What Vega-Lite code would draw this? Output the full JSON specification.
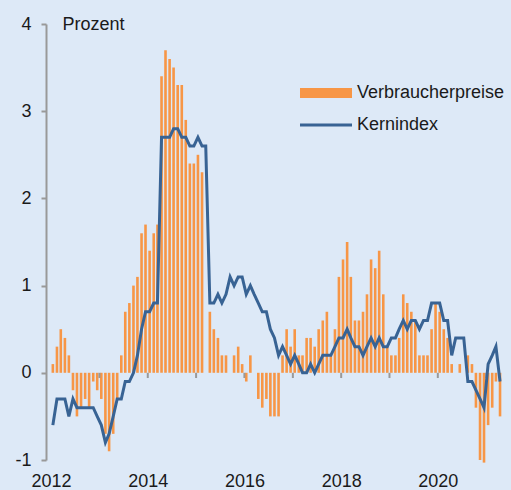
{
  "$schema": "https://vega.github.io/schema/vega-lite/v6.json",
  "width": 463,
  "height": 436,
  "autosize": "none",
  "padding": {"left": 46, "top": 24, "right": 2, "bottom": 30},
  "background": "#dde9f7",
  "config": {
    "view": {"stroke": null},
    "font": "Liberation Sans",
    "axis": {"labelFont": "Liberation Sans", "labelFontSize": 18, "labelColor": "#1a1a1a", "titleFont": "Liberation Sans"},
    "legend": {"labelFont": "Liberation Sans", "labelFontSize": 18, "labelColor": "#1a1a1a"}
  },
  "datasets": {
    "jp": [
      {"date": "2012-01-15", "cpi": 0.1, "core": -0.6},
      {"date": "2012-02-15", "cpi": 0.3, "core": -0.3},
      {"date": "2012-03-15", "cpi": 0.5, "core": -0.3},
      {"date": "2012-04-15", "cpi": 0.4, "core": -0.3},
      {"date": "2012-05-15", "cpi": 0.2, "core": -0.5},
      {"date": "2012-06-15", "cpi": -0.2, "core": -0.3},
      {"date": "2012-07-15", "cpi": -0.5, "core": -0.4},
      {"date": "2012-08-15", "cpi": -0.4, "core": -0.4},
      {"date": "2012-09-15", "cpi": -0.3, "core": -0.4},
      {"date": "2012-10-15", "cpi": -0.4, "core": -0.4},
      {"date": "2012-11-15", "cpi": -0.1, "core": -0.4},
      {"date": "2012-12-15", "cpi": -0.2, "core": -0.5},
      {"date": "2013-01-15", "cpi": -0.3, "core": -0.6},
      {"date": "2013-02-15", "cpi": -0.7, "core": -0.8},
      {"date": "2013-03-15", "cpi": -0.9, "core": -0.7},
      {"date": "2013-04-15", "cpi": -0.7, "core": -0.5},
      {"date": "2013-05-15", "cpi": -0.3, "core": -0.3},
      {"date": "2013-06-15", "cpi": 0.2, "core": -0.3},
      {"date": "2013-07-15", "cpi": 0.7, "core": -0.1},
      {"date": "2013-08-15", "cpi": 0.8, "core": -0.1},
      {"date": "2013-09-15", "cpi": 1.0, "core": 0.0},
      {"date": "2013-10-15", "cpi": 1.1, "core": 0.2},
      {"date": "2013-11-15", "cpi": 1.6, "core": 0.5},
      {"date": "2013-12-15", "cpi": 1.7, "core": 0.7},
      {"date": "2014-01-15", "cpi": 1.4, "core": 0.7},
      {"date": "2014-02-15", "cpi": 1.6, "core": 0.8},
      {"date": "2014-03-15", "cpi": 1.7, "core": 0.8},
      {"date": "2014-04-15", "cpi": 3.4, "core": 2.7},
      {"date": "2014-05-15", "cpi": 3.7, "core": 2.7},
      {"date": "2014-06-15", "cpi": 3.6, "core": 2.7},
      {"date": "2014-07-15", "cpi": 3.5, "core": 2.8},
      {"date": "2014-08-15", "cpi": 3.3, "core": 2.8},
      {"date": "2014-09-15", "cpi": 3.3, "core": 2.7},
      {"date": "2014-10-15", "cpi": 2.9, "core": 2.7},
      {"date": "2014-11-15", "cpi": 2.4, "core": 2.6},
      {"date": "2014-12-15", "cpi": 2.4, "core": 2.6},
      {"date": "2015-01-15", "cpi": 2.5, "core": 2.7},
      {"date": "2015-02-15", "cpi": 2.3, "core": 2.6},
      {"date": "2015-03-15", "cpi": null, "core": 2.6},
      {"date": "2015-04-15", "cpi": 0.7, "core": 0.8},
      {"date": "2015-05-15", "cpi": 0.5, "core": 0.8},
      {"date": "2015-06-15", "cpi": 0.4, "core": 0.9},
      {"date": "2015-07-15", "cpi": 0.2, "core": 0.8},
      {"date": "2015-08-15", "cpi": 0.2, "core": 0.9},
      {"date": "2015-09-15", "cpi": 0.0, "core": 1.1},
      {"date": "2015-10-15", "cpi": 0.2, "core": 1.0},
      {"date": "2015-11-15", "cpi": 0.3, "core": 1.1},
      {"date": "2015-12-15", "cpi": 0.1, "core": 1.1},
      {"date": "2016-01-15", "cpi": -0.1, "core": 0.9},
      {"date": "2016-02-15", "cpi": 0.2, "core": 1.0},
      {"date": "2016-03-15", "cpi": 0.0, "core": 0.9},
      {"date": "2016-04-15", "cpi": -0.3, "core": 0.8},
      {"date": "2016-05-15", "cpi": -0.4, "core": 0.7},
      {"date": "2016-06-15", "cpi": -0.3, "core": 0.7},
      {"date": "2016-07-15", "cpi": -0.5, "core": 0.5},
      {"date": "2016-08-15", "cpi": -0.5, "core": 0.4},
      {"date": "2016-09-15", "cpi": -0.5, "core": 0.2},
      {"date": "2016-10-15", "cpi": 0.2, "core": 0.3},
      {"date": "2016-11-15", "cpi": 0.5, "core": 0.2},
      {"date": "2016-12-15", "cpi": 0.3, "core": 0.1},
      {"date": "2017-01-15", "cpi": 0.5, "core": 0.2},
      {"date": "2017-02-15", "cpi": 0.2, "core": 0.1},
      {"date": "2017-03-15", "cpi": 0.2, "core": 0.0},
      {"date": "2017-04-15", "cpi": 0.4, "core": 0.0},
      {"date": "2017-05-15", "cpi": 0.4, "core": 0.1},
      {"date": "2017-06-15", "cpi": 0.3, "core": 0.0},
      {"date": "2017-07-15", "cpi": 0.5, "core": 0.1},
      {"date": "2017-08-15", "cpi": 0.6, "core": 0.2},
      {"date": "2017-09-15", "cpi": 0.7, "core": 0.2},
      {"date": "2017-10-15", "cpi": 0.2, "core": 0.2},
      {"date": "2017-11-15", "cpi": 0.5, "core": 0.3},
      {"date": "2017-12-15", "cpi": 1.1, "core": 0.4},
      {"date": "2018-01-15", "cpi": 1.3, "core": 0.4},
      {"date": "2018-02-15", "cpi": 1.5, "core": 0.5},
      {"date": "2018-03-15", "cpi": 1.1, "core": 0.4},
      {"date": "2018-04-15", "cpi": 0.6, "core": 0.3},
      {"date": "2018-05-15", "cpi": 0.6, "core": 0.3},
      {"date": "2018-06-15", "cpi": 0.7, "core": 0.2},
      {"date": "2018-07-15", "cpi": 0.9, "core": 0.3},
      {"date": "2018-08-15", "cpi": 1.3, "core": 0.4},
      {"date": "2018-09-15", "cpi": 1.2, "core": 0.3},
      {"date": "2018-10-15", "cpi": 1.4, "core": 0.4},
      {"date": "2018-11-15", "cpi": 0.9, "core": 0.3},
      {"date": "2018-12-15", "cpi": 0.3, "core": 0.3},
      {"date": "2019-01-15", "cpi": 0.2, "core": 0.4},
      {"date": "2019-02-15", "cpi": 0.2, "core": 0.4},
      {"date": "2019-03-15", "cpi": 0.4, "core": 0.5},
      {"date": "2019-04-15", "cpi": 0.9, "core": 0.6},
      {"date": "2019-05-15", "cpi": 0.8, "core": 0.5},
      {"date": "2019-06-15", "cpi": 0.7, "core": 0.6},
      {"date": "2019-07-15", "cpi": 0.6, "core": 0.6},
      {"date": "2019-08-15", "cpi": 0.2, "core": 0.5},
      {"date": "2019-09-15", "cpi": 0.2, "core": 0.6},
      {"date": "2019-10-15", "cpi": 0.2, "core": 0.6},
      {"date": "2019-11-15", "cpi": 0.5, "core": 0.8},
      {"date": "2019-12-15", "cpi": 0.8, "core": 0.8},
      {"date": "2020-01-15", "cpi": 0.7, "core": 0.8},
      {"date": "2020-02-15", "cpi": 0.5, "core": 0.6},
      {"date": "2020-03-15", "cpi": 0.4, "core": 0.6},
      {"date": "2020-04-15", "cpi": 0.1, "core": 0.2},
      {"date": "2020-05-15", "cpi": 0.0, "core": 0.4},
      {"date": "2020-06-15", "cpi": 0.1, "core": 0.4},
      {"date": "2020-07-15", "cpi": 0.0, "core": 0.4},
      {"date": "2020-08-15", "cpi": 0.2, "core": -0.1},
      {"date": "2020-09-15", "cpi": 0.1, "core": -0.1},
      {"date": "2020-10-15", "cpi": -0.4, "core": -0.2},
      {"date": "2020-11-15", "cpi": -1.0, "core": -0.3},
      {"date": "2020-12-15", "cpi": -1.03, "core": -0.4},
      {"date": "2021-01-15", "cpi": -0.6, "core": 0.1},
      {"date": "2021-02-15", "cpi": -0.4, "core": 0.2},
      {"date": "2021-03-15", "cpi": -0.1, "core": 0.3},
      {"date": "2021-04-15", "cpi": -0.5, "core": -0.1}
    ],
    "years": [
      {"date": "2013-01-01"}, {"date": "2014-01-01"}, {"date": "2015-01-01"},
      {"date": "2016-01-01"}, {"date": "2017-01-01"}, {"date": "2018-01-01"},
      {"date": "2019-01-01"}, {"date": "2020-01-01"}, {"date": "2021-01-01"}
    ]
  },
  "encoding": {
    "x": {
      "field": "date",
      "type": "temporal",
      "scale": {
        "type": "utc",
        "domain": [
          {"year": 2012, "month": 1, "date": 1, "utc": true},
          {"year": 2021, "month": 5, "date": 15, "utc": true}
        ]
      },
      "axis": {
        "title": null,
        "domain": false,
        "ticks": false,
        "grid": false,
        "labelPadding": 12,
        "format": "%Y",
        "formatType": "utc",
        "labelFlush": false,
        "labelOverlap": false,
        "values": [
          {"year": 2012, "month": 1, "date": 1, "utc": true},
          {"year": 2014, "month": 1, "date": 1, "utc": true},
          {"year": 2016, "month": 1, "date": 1, "utc": true},
          {"year": 2018, "month": 1, "date": 1, "utc": true},
          {"year": 2020, "month": 1, "date": 1, "utc": true}
        ]
      }
    }
  },
  "layer": [
    {
      "data": {"name": "jp"},
      "mark": {"type": "bar", "size": 2.6},
      "encoding": {
        "y": {
          "field": "cpi",
          "type": "quantitative",
          "scale": {"domain": [-1, 4], "nice": false, "zero": false},
          "axis": {
            "title": "Prozent",
            "titleAngle": 0,
            "titleAlign": "left",
            "titleBaseline": "alphabetic",
            "titleX": 16,
            "titleY": 5,
            "titleFontSize": 18,
            "titleFontWeight": "normal",
            "titleColor": "#1a1a1a",
            "values": [-1, 0, 1, 2, 3, 4],
            "labelExpr": "'' + datum.value",
            "grid": false,
            "domainColor": "#999999",
            "domainWidth": 2,
            "tickColor": "#999999",
            "tickWidth": 2,
            "tickSize": 5,
            "labelPadding": 10
          }
        },
        "color": {
          "datum": "Verbraucherpreise",
          "type": "nominal",
          "scale": {"domain": ["Verbraucherpreise", "Kernindex"], "range": ["#f79646", "#386394"]},
          "legend": {
            "title": null,
            "orient": "none",
            "legendX": 271,
            "legendY": 60,
            "padding": 0,
            "symbolSize": 100,
            "labelOffset": 22,
            "rowPadding": 14,
            "encode": {
              "symbols": {
                "update": {
                  "shape": {"signal": "datum.label === 'Kernindex' ? 'M-5.2,0L5.2,0' : 'M-5.2,-1L5.2,-1L5.2,1L-5.2,1Z'"},
                  "fill": {"signal": "datum.label === 'Kernindex' ? 'transparent' : '#f79646'"},
                  "stroke": {"signal": "datum.label === 'Kernindex' ? '#386394' : 'transparent'"},
                  "strokeWidth": {"signal": "datum.label === 'Kernindex' ? 3 : 0"},
                  "opacity": {"value": 1}
                }
              }
            }
          }
        }
      }
    },
    {
      "mark": {"type": "rule", "color": "#999999", "strokeWidth": 2},
      "encoding": {"y": {"datum": 0}, "x": null}
    },
    {
      "data": {"name": "years"},
      "mark": {"type": "rule", "color": "#999999", "strokeWidth": 2},
      "encoding": {"y": {"datum": 0}, "y2": {"datum": -0.06}}
    },
    {
      "data": {"name": "jp"},
      "mark": {"type": "line", "strokeWidth": 3, "interpolate": "linear"},
      "encoding": {
        "y": {"field": "core", "type": "quantitative"},
        "color": {"datum": "Kernindex", "type": "nominal"}
      }
    }
  ]
}
